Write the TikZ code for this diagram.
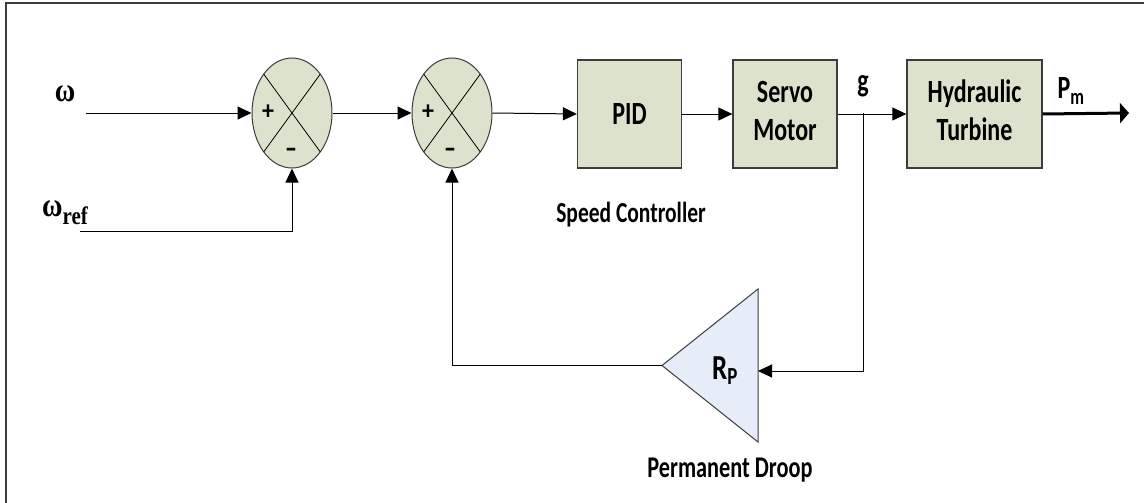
\documentclass[tikz,border=0pt]{standalone}
\usepackage{fontspec}
\usepackage{graphicx}
\setmainfont{Carlito}
\newfontfamily\greekfont{Liberation Serif}
\usetikzlibrary{arrows.meta,shapes.geometric,calc}
\definecolor{boxfill}{RGB}{221,226,204}
\definecolor{trifill}{RGB}{230,236,248}
\definecolor{edge}{RGB}{60,60,60}
\newcommand\vst[2][1.35]{\scalebox{1}[#1]{#2}}
\newcommand\twoline[2]{\raisebox{-2pt}{\vst{\begin{tabular}{@{}c@{}}#1\\#2\end{tabular}}}}
\tikzset{
  sumnode/.style={ellipse,draw=edge,line width=1pt,fill=boxfill,minimum width=80pt,minimum height=110pt,inner sep=0pt},
  blockbox/.style={rectangle,draw=edge,line width=1.3pt,fill=boxfill,minimum width=104pt,minimum height=108pt,inner sep=0pt,align=center,font=\bfseries\fontsize{24}{28}\selectfont},
  lbl/.style={inner sep=0pt,font=\bfseries\fontsize{24}{28}\selectfont},
  captext/.style={inner sep=0pt,font=\bfseries\fontsize{21.5}{24}\selectfont},
  sgn/.style={inner sep=0pt,font=\bfseries\fontsize{24}{26}\selectfont},
  wire/.style={draw=black,line width=1pt},
  arr/.style={wire,-{Triangle[length=14pt,width=13pt]}},
  bigarr/.style={draw=black,line width=3pt,-{Triangle[length=9pt,width=20pt]}}
}
\begin{document}
\begin{tikzpicture}[x=1pt,y=-1pt]
\useasboundingbox (0,0) rectangle (1144,503);
\fill[white] (0,0) rectangle (1144,503);
\draw[draw=edge,line width=2pt] (6,503) -- (6,3) -- (1144,3);

% summing junctions
\node[sumnode] (s1) at (292,113) {};
\node[sumnode] (s2) at (452,113) {};
\foreach \s in {s1,s2}{
  \draw[line width=0.8pt] ($(\s.center)+(-28.3,-38.9)$) -- ($(\s.center)+(28.3,38.9)$);
  \draw[line width=0.8pt] ($(\s.center)+(28.3,-38.9)$) -- ($(\s.center)+(-28.3,38.9)$);
}
\node[sgn] (p1) at (268,112) {\vst[1.1]{+}};
\node[sgn] (m1) at (291,153) {\vst[1.3]{\textendash}};
\node[sgn] (p2) at (428,112) {\vst[1.1]{+}};
\node[sgn] (m2) at (450,153) {\vst[1.3]{\textendash}};

% blocks
\node[blockbox] (pid) at (629.5,114) {\vst{PID}};
\node[blockbox] (servo) at (785,114) {\twoline{Servo}{Motor}};
\node[blockbox,minimum width=135pt] (turb) at (974.5,114) {\twoline{Hydraulic}{Turbine}};

% droop triangle
\coordinate (tip) at (662,365.5);
\coordinate (ttop) at (758,289);
\coordinate (tbot) at (758,442);
\coordinate (tin) at (758,371);
\filldraw[fill=trifill,draw=edge,line width=1pt] (tip) -- (ttop) -- (tbot) -- cycle;
\node[inner sep=0pt,font=\bfseries\fontsize{27}{30}\selectfont] (rp) at (725,371) {\vst[1.3]{R\textsubscript{P}}};

% labels
\node[inner sep=0pt,font=\greekfont\bfseries\fontsize{28}{30}\selectfont] (w) at (65,94) {\vst[1.2]{ω}};
\node[inner sep=0pt,font=\greekfont\bfseries\fontsize{28}{30}\selectfont,anchor=west] (wr) at (42,213) {\vst[1.2]{ω\raisebox{-0.25em}{\fontsize{21}{24}\selectfont ref}}};
\node[lbl] (g) at (863,86) {\vst{g}};
\node[lbl] (pm) at (1071,91) {\vst{P\textsubscript{m}}};
\node[captext] (sc) at (631,215) {\vst{Speed Controller}};
\node[captext,font=\bfseries\fontsize{22.3}{24}\selectfont] (pd) at (730,470) {\vst{Permanent Droop}};

% connectors
\coordinate (win) at (86,113);
\coordinate (wrin) at (80,231);
\coordinate (j) at (863,113);
\coordinate (pout) at (1129,113);
\draw[arr] (win) -- (s1.west);
\draw[arr] (wrin) -| (s1.south);
\draw[arr] (s1.east) -- (s2.west);
\draw[arr] (s2.east) -- (pid.west);
\draw[arr] (pid.east) -- (servo.west);
\draw[arr] (servo.east) -- (turb.west);
\draw[bigarr] (turb.east) -- (pout);
\draw[arr] (j) |- (tin);
\draw[arr] (tip) -| (s2.south);
\end{tikzpicture}
\end{document}
